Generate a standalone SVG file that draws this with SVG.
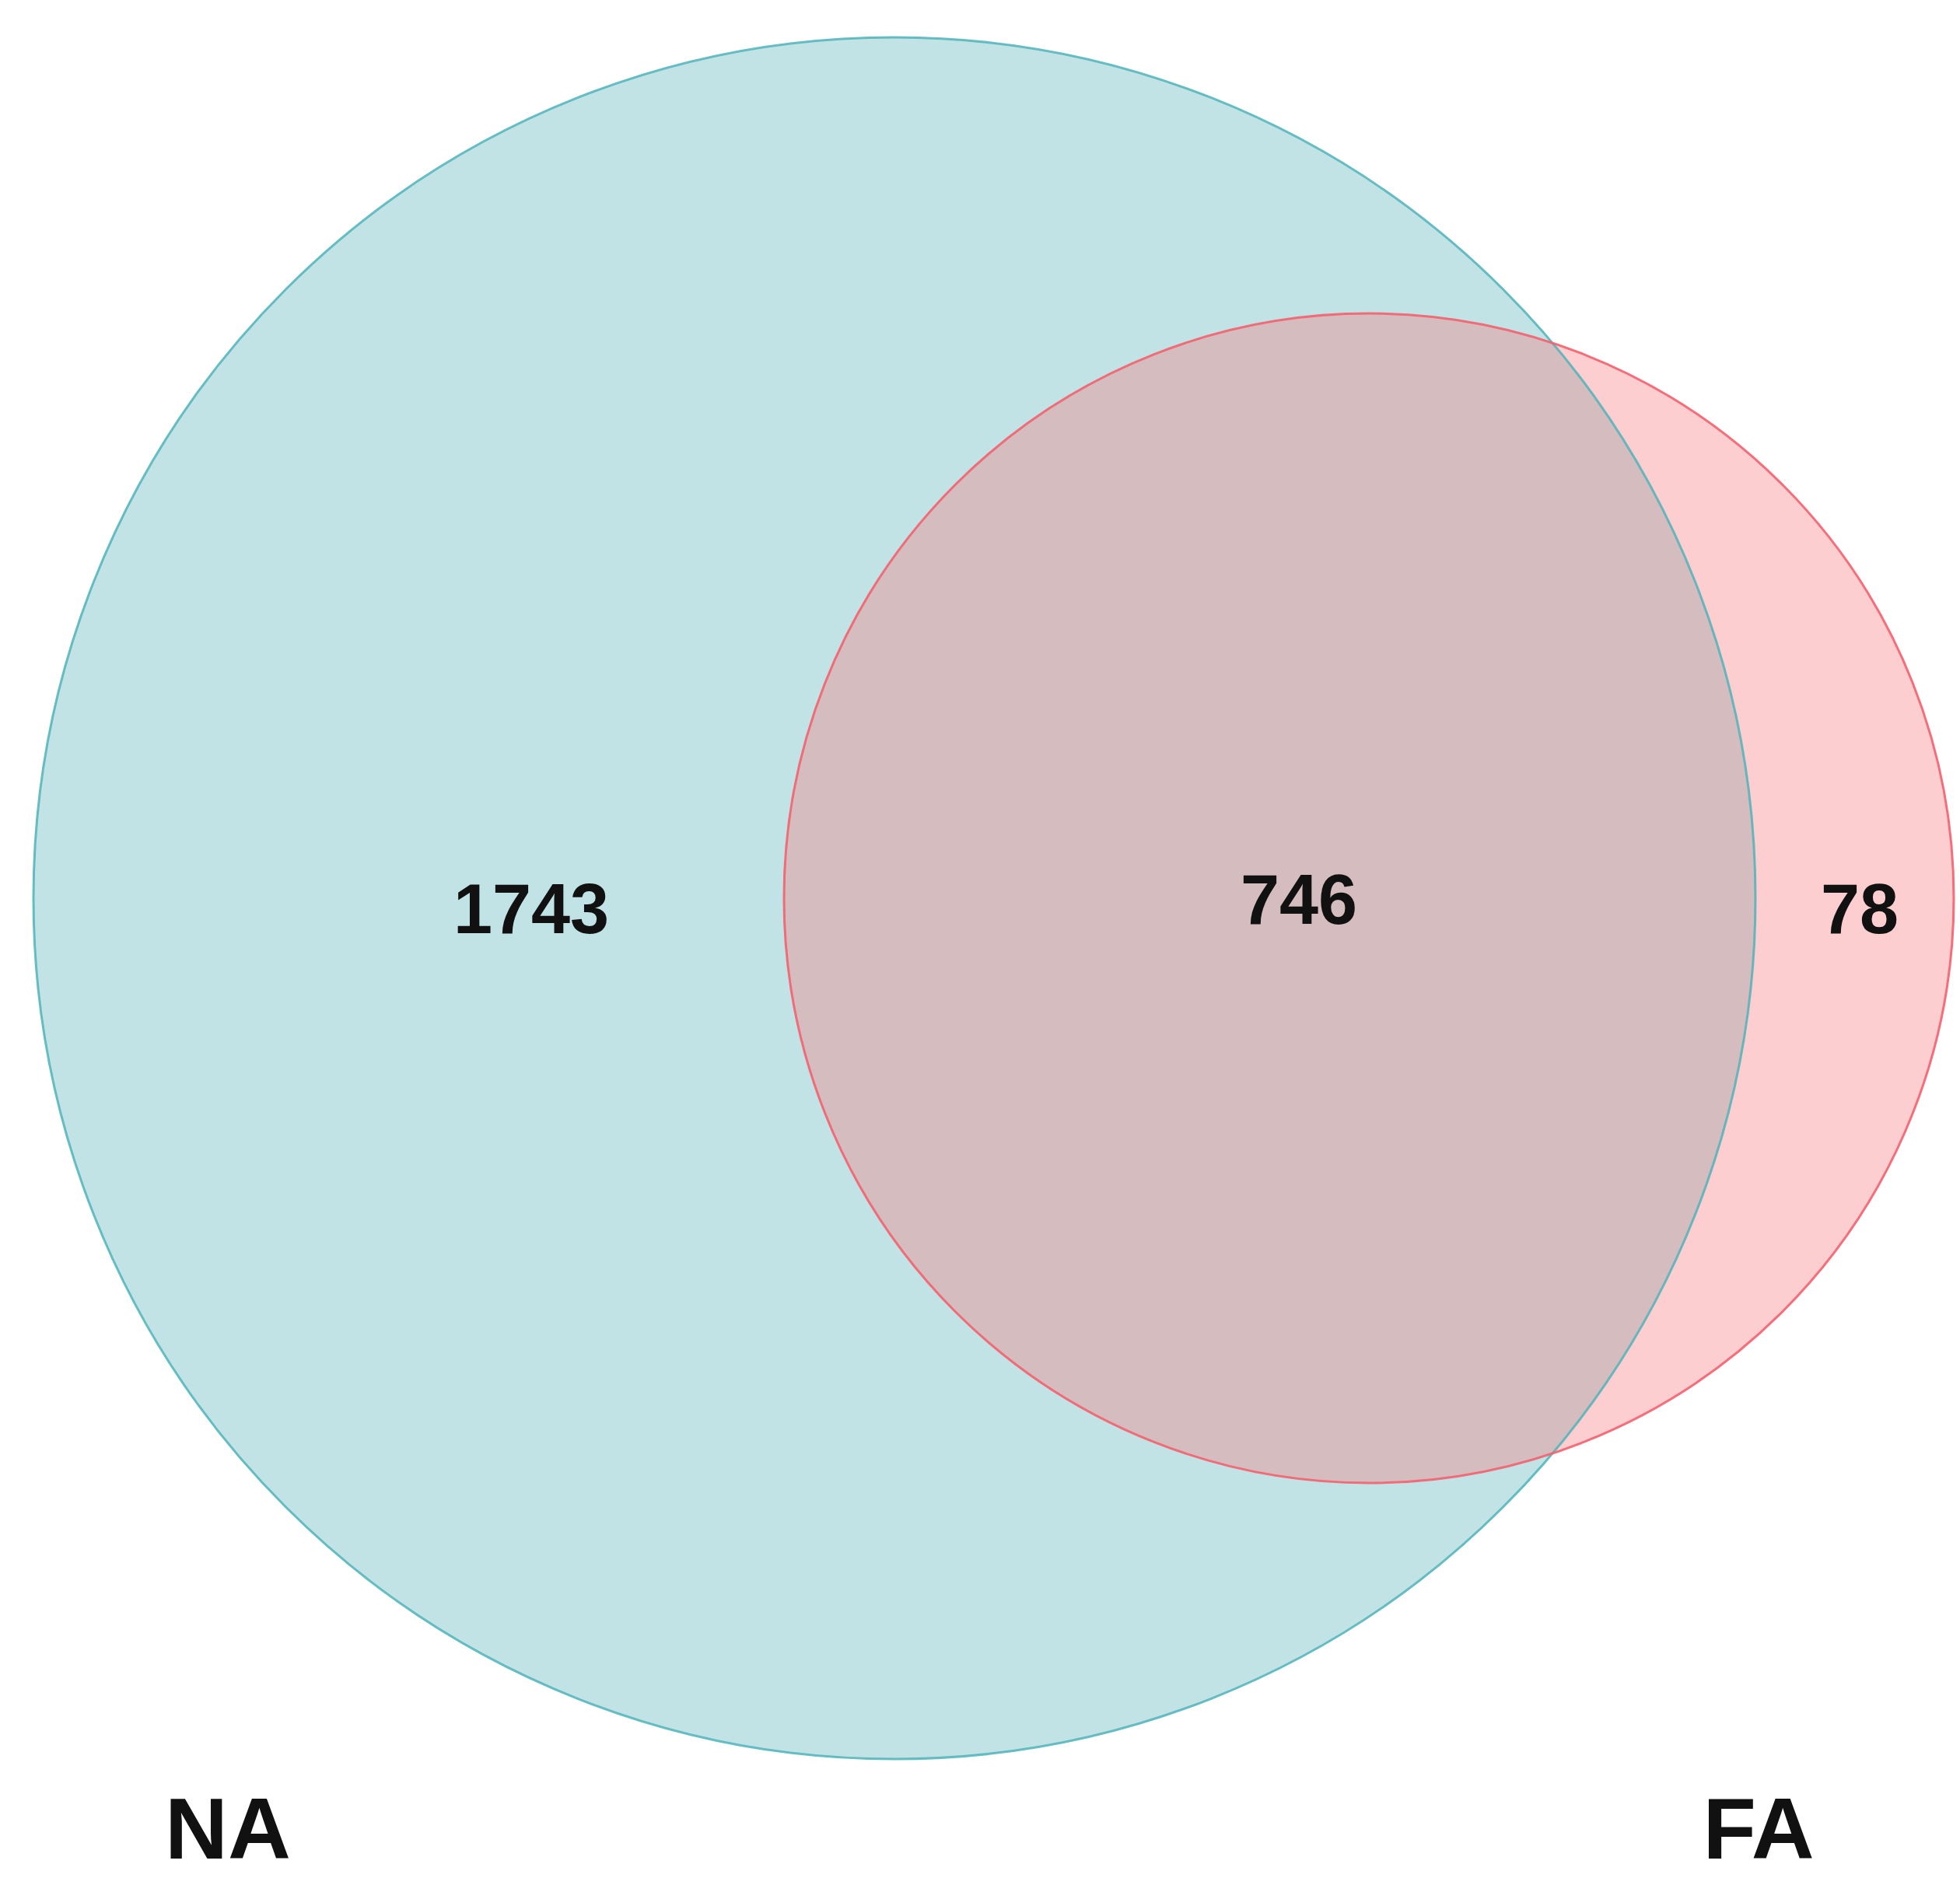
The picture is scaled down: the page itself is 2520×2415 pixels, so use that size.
<svg xmlns="http://www.w3.org/2000/svg" width="2520" height="2415" viewBox="0 0 2520 2415">
<style>
.num{font-family:"Liberation Sans",Arial,sans-serif;font-weight:bold;font-size:90px;fill:#111;text-anchor:middle}
.lbl{font-family:"Liberation Sans",Arial,sans-serif;font-weight:bold;font-size:112px;fill:#111;text-anchor:middle}
</style>
<rect width="2520" height="2415" fill="#ffffff"/>
<g id="set-NA">
<circle cx="1150" cy="1155" r="1107" fill="#c1e3e5"/>
</g>
<g id="set-FA">
<circle cx="1760" cy="1155" r="752" fill="#f8767d" fill-opacity="0.36"/>
</g>
<g id="outlines">
<circle cx="1150" cy="1155" r="1107" fill="none" stroke="#4fb3ba" stroke-width="3" stroke-opacity="0.85"/>
<circle cx="1760" cy="1155" r="752" fill="none" stroke="#f4606e" stroke-width="3" stroke-opacity="0.9"/>
</g>
<g id="labels">
<text class="num" x="683" y="1200">1743</text>
<text class="num" x="1670" y="1188">746</text>
<text class="num" x="2391" y="1200">78</text>
<text class="lbl" x="293" y="2390">NA</text>
<text class="lbl" x="2261" y="2390">FA</text>
</g>
</svg>
